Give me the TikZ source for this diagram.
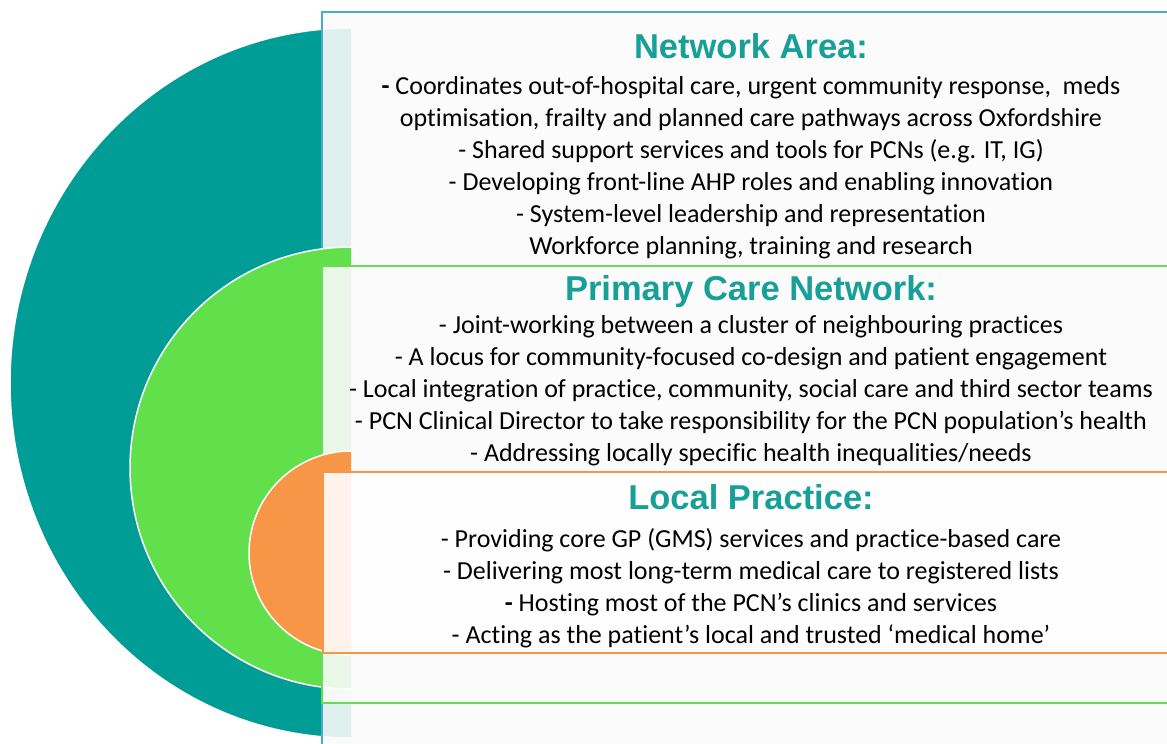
\documentclass[tikz,border=0pt]{standalone}
\usepackage{fontspec}
\setmainfont{Carlito}[RawFeature=-liga]
\newfontfamily\titlefont{Liberation Sans}
\definecolor{discteal}{HTML}{009C96}
\definecolor{discgreen}{HTML}{62E04C}
\definecolor{discorange}{HTML}{F79646}
\definecolor{titleteal}{HTML}{17A098}
\definecolor{lineblue}{HTML}{4BACC6}
\definecolor{linegreen}{HTML}{66DD55}
\definecolor{lineorange}{HTML}{F79646}
\definecolor{boxfill}{HTML}{FBFBFB}
\tikzset{
  disc/.style={draw=white, line width=1.5pt},
  panel/.style={fill=boxfill, fill opacity=0.89, draw=none},
  title/.style={anchor=base, inner sep=0pt, text=titleteal, font=\titlefont\bfseries\fontsize{34.5}{40}\selectfont},
  body/.style={anchor=base, inner sep=0pt, text=black, font=\fontsize{26}{30}\selectfont}
}
\begin{document}
\begin{tikzpicture}[x=1pt,y=-1pt]
\useasboundingbox (0,0) rectangle (1167,744);
\fill[white] (0,0) rectangle (1167,744);
% teal disc
\begin{scope}
\clip (0,0) rectangle (351,760);
\filldraw[disc, fill=discteal] (351,383) ellipse [x radius=341, y radius=355];
\end{scope}
% network box
\fill[panel] (322,12) rectangle (1190,770);
\draw[lineblue, line width=1.2pt] (1190,12) -- (322,12) -- (322,770);
% green disc
\begin{scope}
\clip (0,0) rectangle (351,760);
\filldraw[disc, fill=discgreen] (351,468) circle [radius=221];
\end{scope}
% pcn box
\fill[panel] (322,266) rectangle (1190,703);
\draw[linegreen, line width=1.2pt] (1190,266) -- (322,266) -- (322,703) -- (1190,703);
% orange disc
\begin{scope}
\clip (0,0) rectangle (351,760);
\filldraw[disc, fill=discorange] (351,553) circle [radius=102];
\end{scope}
% practice box
\fill[panel, fill=white] (323,472) rectangle (1190,653);
\draw[lineorange, line width=1.2pt] (1190,472) -- (323,472) -- (323,653) -- (1190,653);
% texts
\node[title] (t1) at (751,58) {Network Area:};
\foreach \t [count=\i] in {{\textbf{-} Coordinates out-of-hospital care, urgent community response,\ \ meds},
  {optimisation, frailty and planned care pathways across Oxfordshire},
  {- Shared support services and tools for PCNs (e.g. IT, IG)},
  {- Developing front-line AHP roles and enabling innovation},
  {- System-level leadership and representation},
  {Workforce planning, training and research}}
  \node[body] (na\i) at (751,{94+32*(\i-1)}) {\t};
\node[title] (t2) at (751,300) {Primary Care Network:};
\foreach \t [count=\i] in {{- Joint-working between a cluster of neighbouring practices},
  {- A locus for community-focused co-design and patient engagement},
  {- Local integration of practice, community, social care and third sector teams},
  {- PCN Clinical Director to take responsibility for the PCN population’s health},
  {- Addressing locally specific health inequalities/needs}}
  \node[body] (pc\i) at (751,{333+32*(\i-1)}) {\t};
\node[title] (t3) at (751,509) {Local Practice:};
\foreach \t [count=\i] in {{- Providing core GP (GMS) services and practice-based care},
  {- Delivering most long-term medical care to registered lists},
  {\textbf{-} Hosting most of the PCN’s clinics and services},
  {- Acting as the patient’s local and trusted ‘medical home’}}
  \node[body] (lp\i) at (751,{547+32*(\i-1)}) {\t};
\end{tikzpicture}
\end{document}
